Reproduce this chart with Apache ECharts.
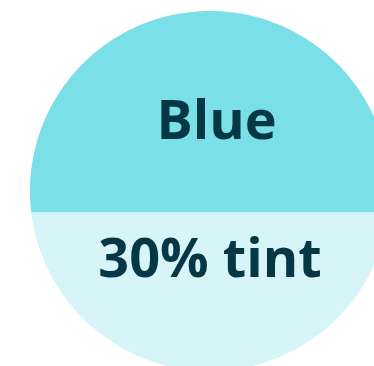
<!DOCTYPE html>
<html>
<head>
<meta charset="utf-8">
<style>
  html, body { margin: 0; padding: 0; background: #ffffff; }
  #chart { width: 374px; height: 366px; }
</style>
<script src="https://cdn.jsdelivr.net/npm/echarts@6/dist/echarts.min.js"></script>
</head>
<body>
<div id="chart"></div>
<script>
// Segment names (top to bottom)
const segmentNames = ['Blue', '30% tint'];
// Level boundaries of each segment on the unit circle (lower, upper)
const segmentLower = [-0.12, -1];
const segmentUpper = [1, -0.12];
// Label anchor (x, y) in unit-circle coordinates
const labelX = [0.036, 0];
const labelY = [0.375, -0.39];
const segmentColors = ['#7bdfe7', '#d7f5f8'];
const textColor = '#063744';

const chart = echarts.init(document.getElementById('chart'), null, { renderer: 'canvas' });

const data = segmentNames.map((n, i) => [segmentLower[i], segmentUpper[i], labelX[i], labelY[i], i]);

function renderItem(params, api) {
  const lo = api.value(0), hi = api.value(1), lx = api.value(2), ly = api.value(3), idx = api.value(4);
  const pts = [];
  const aLo = Math.asin(Math.max(-1, Math.min(1, lo)));
  const aHi = Math.asin(Math.max(-1, Math.min(1, hi)));
  const N = 120;
  for (let k = 0; k <= N; k++) {
    const a = aLo + (aHi - aLo) * k / N;
    pts.push(api.coord([Math.cos(a), Math.sin(a)]));
  }
  for (let k = 0; k <= N; k++) {
    const a = aHi + (aLo - aHi) * k / N;
    pts.push(api.coord([-Math.cos(a), Math.sin(a)]));
  }
  const c = api.coord([lx, ly]);
  return {
    type: 'group',
    children: [
      { type: 'polygon', shape: { points: pts }, style: { fill: segmentColors[idx] } },
      {
        type: 'text', z2: 10,
        style: {
          text: segmentNames[idx], x: c[0], y: c[1],
          align: 'center', verticalAlign: 'middle',
          fill: textColor,
          font: 'bold 54px "Open Sans"'
        }
      }
    ]
  };
}

chart.setOption({
  animation: false,
  grid: { left: 30, top: 11, width: 360, height: 360, outerBoundsMode: 'none', containLabel: false },
  xAxis: { type: 'value', min: -1, max: 1, show: false },
  yAxis: { type: 'value', min: -1, max: 1, show: false },
  series: [{
    type: 'custom',
    renderItem: renderItem,
    data: data,
    clip: false
  }]
});
</script>
</body>
</html>
